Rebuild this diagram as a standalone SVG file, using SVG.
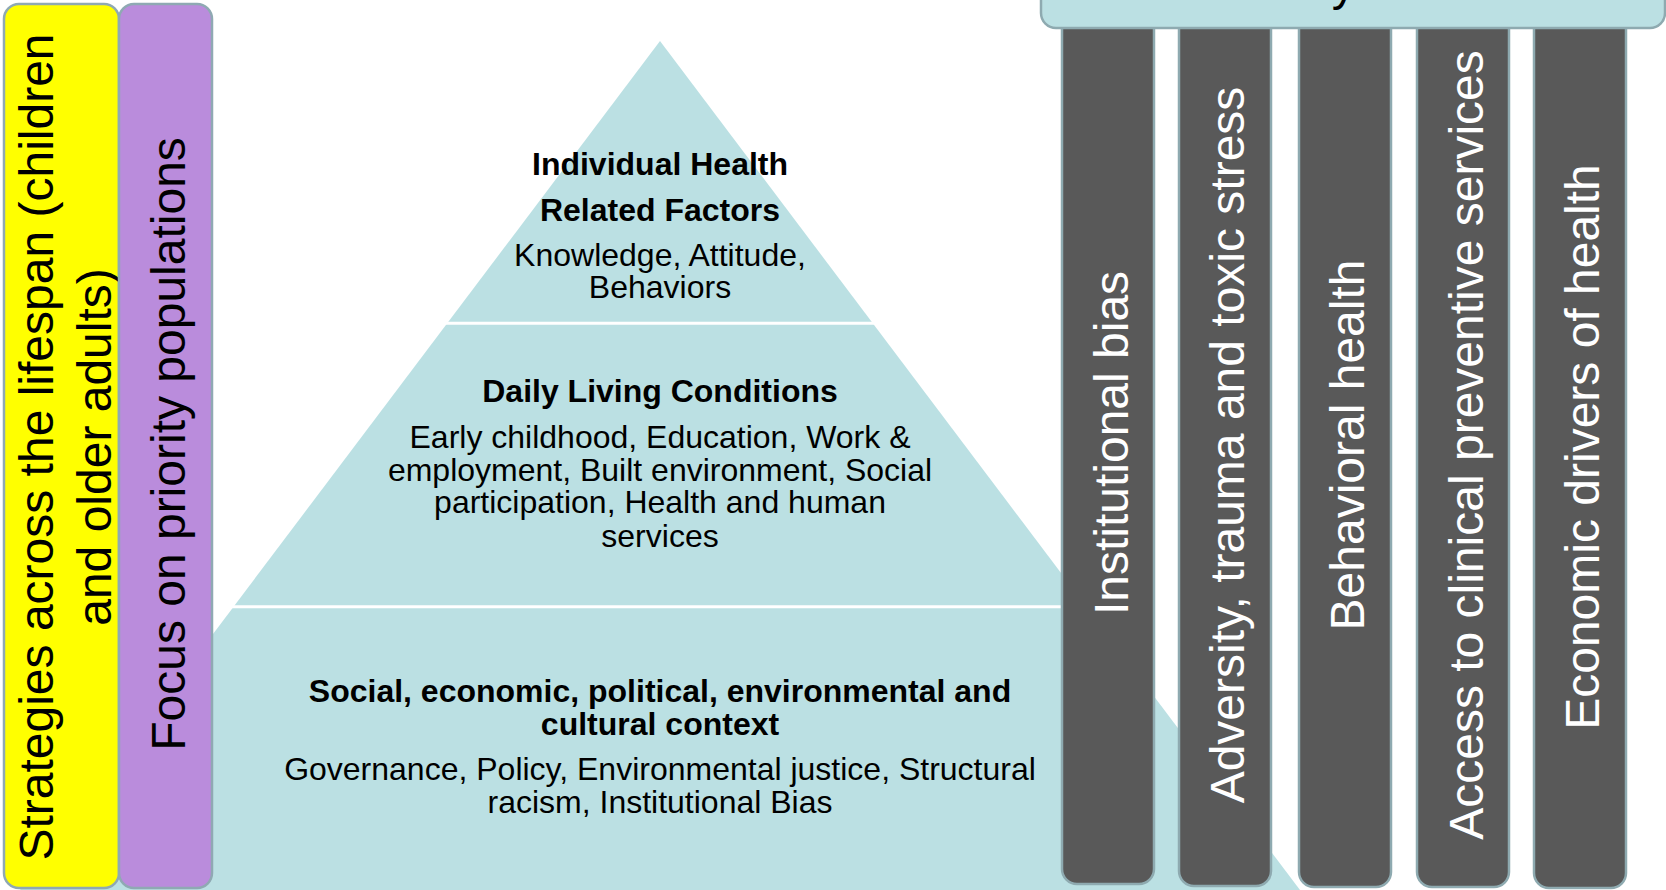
<svg xmlns="http://www.w3.org/2000/svg" width="1666" height="890" viewBox="0 0 1666 890">
  <style>
    text { font-family: "Liberation Sans", Arial, Helvetica, sans-serif; }
    .pyr { fill: #BBE0E3; }
    .gap { stroke: #FFFFFF; stroke-width: 3; }
    .pt { font-size: 32px; fill: #000000; text-anchor: middle; }
    .b { font-weight: bold; }
    .bar { fill: #595959; stroke: #8EAAB0; stroke-width: 2.5; }
    .bt { font-size: 48px; fill: #FFFFFF; text-anchor: middle; }
    .side { stroke: #8FA9B3; stroke-width: 2.5; }
    .st { font-size: 48px; fill: #000000; text-anchor: middle; }
    .topbox { fill: #BBE0E3; stroke: #8EAAB0; stroke-width: 2.5; }
  </style>

  <rect x="0" y="0" width="1666" height="890" fill="#FFFFFF"/>

  <g id="pyramid">
    <polygon class="pyr" points="660,41 1303,894 17,894"/>
    <line class="gap" x1="420" y1="323.3" x2="900" y2="323.3"/>
    <line class="gap" x1="215" y1="606.7" x2="1100" y2="606.7"/>
  </g>

  <g id="layer-individual">
    <text class="pt b" x="660" y="175">Individual Health</text>
    <text class="pt b" x="660" y="221">Related Factors</text>
    <text class="pt" x="660" y="266">Knowledge, Attitude,</text>
    <text class="pt" x="660" y="298">Behaviors</text>
  </g>

  <g id="layer-daily">
    <text class="pt b" x="660" y="402">Daily Living Conditions</text>
    <text class="pt" x="660" y="448">Early childhood, Education, Work &amp;</text>
    <text class="pt" x="660" y="481">employment, Built environment, Social</text>
    <text class="pt" x="660" y="513">participation, Health and human</text>
    <text class="pt" x="660" y="547">services</text>
  </g>

  <g id="layer-context">
    <text class="pt b" x="660" y="702">Social, economic, political, environmental and</text>
    <text class="pt b" x="660" y="735">cultural context</text>
    <text class="pt" x="660" y="780">Governance, Policy, Environmental justice, Structural</text>
    <text class="pt" x="660" y="813">racism, Institutional Bias</text>
  </g>

  <g id="bar-institutional">
    <rect class="bar" x="1062" y="-10" width="92" height="894" rx="15"/>
    <text class="bt" transform="translate(1128,443) rotate(-90)">Institutional bias</text>
  </g>
  <g id="bar-adversity">
    <rect class="bar" x="1179" y="-10" width="92" height="896" rx="15"/>
    <text class="bt" transform="translate(1244,445) rotate(-90)">Adversity, trauma and toxic stress</text>
  </g>
  <g id="bar-behavioral">
    <rect class="bar" x="1299" y="-10" width="92" height="897" rx="15"/>
    <text class="bt" transform="translate(1364,445) rotate(-90)">Behavioral health</text>
  </g>
  <g id="bar-access">
    <rect class="bar" x="1417" y="-10" width="92" height="897" rx="15"/>
    <text class="bt" transform="translate(1483,445) rotate(-90)">Access to clinical preventive services</text>
  </g>
  <g id="bar-economic">
    <rect class="bar" x="1534" y="-10" width="92" height="898" rx="15"/>
    <text class="bt" transform="translate(1599,447) rotate(-90)">Economic drivers of health</text>
  </g>

  <g id="priority-header">
    <rect class="topbox" x="1041" y="-30" width="624" height="58" rx="15"/>
    <text class="st" x="1349" y="0.4">Priority Areas</text>
  </g>

  <g id="lifespan-bar">
    <rect class="side" x="4" y="4" width="115" height="884" rx="15" fill="#FFFF00"/>
    <text class="st" transform="translate(53,447) rotate(-90)">Strategies across the lifespan (children</text>
    <text class="st" transform="translate(111,447) rotate(-90)">and older adults)</text>
  </g>

  <g id="priority-populations-bar">
    <rect class="side" x="119" y="4" width="93" height="884" rx="15" fill="#BA8CDC"/>
    <text class="st" transform="translate(185,444) rotate(-90)">Focus on priority populations</text>
  </g>
</svg>
